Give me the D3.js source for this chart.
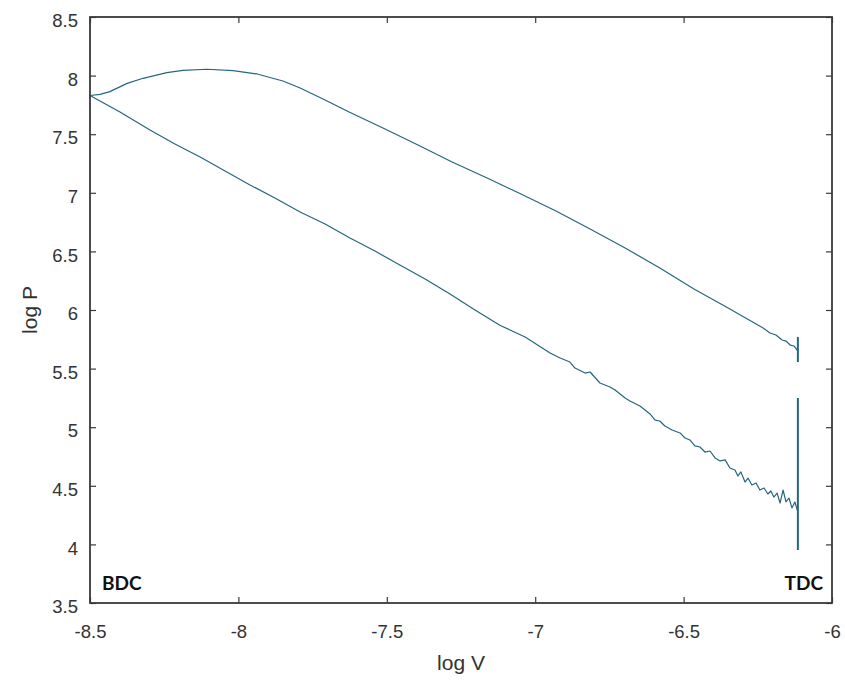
<!DOCTYPE html>
<html>
<head>
<meta charset="utf-8">
<script src="https://cdn.jsdelivr.net/npm/d3@7"></script>
<style>
  html, body { margin: 0; padding: 0; background: #ffffff; }
  svg { display: block; }
</style>
</head>
<body>
<svg id="chart" width="845" height="680"></svg>
<script>
// ---------------- DATA ----------------
// Compression stroke (lower curve), BDC -> TDC
const compressionLogV = [-8.500, -8.399, -8.298, -8.214, -8.129, -8.045, -7.961, -7.877, -7.792, -7.708,
  -7.624, -7.540, -7.456, -7.371, -7.287, -7.203, -7.119, -7.085, -7.034, -6.950,
  -6.916, -6.883, -6.866, -6.832, -6.815, -6.782, -6.748, -6.731, -6.697, -6.681,
  -6.647, -6.613, -6.596, -6.580, -6.563, -6.539, -6.512, -6.495, -6.479, -6.462,
  -6.445, -6.428, -6.411, -6.394, -6.377, -6.360, -6.344, -6.327, -6.317, -6.307,
  -6.293, -6.283, -6.270, -6.256, -6.243, -6.229, -6.216, -6.206, -6.196, -6.185,
  -6.175, -6.165, -6.155, -6.145, -6.135, -6.125, -6.115];
const compressionLogP = [7.830, 7.689, 7.536, 7.416, 7.305, 7.186, 7.067, 6.956, 6.836, 6.734,
  6.614, 6.503, 6.384, 6.264, 6.136, 6.000, 5.870, 5.830, 5.770, 5.633,
  5.590, 5.556, 5.505, 5.462, 5.471, 5.377, 5.343, 5.317, 5.249, 5.224,
  5.181, 5.113, 5.061, 5.053, 5.010, 4.976, 4.951, 4.908, 4.891, 4.840,
  4.831, 4.788, 4.797, 4.738, 4.712, 4.721, 4.652, 4.635, 4.584, 4.618,
  4.532, 4.566, 4.507, 4.524, 4.464, 4.481, 4.430, 4.456, 4.404, 4.438,
  4.353, 4.464, 4.362, 4.396, 4.311, 4.362, 4.277];

// Expansion stroke (upper curve), BDC -> TDC order
const expansionLogV = [-8.500, -8.466, -8.433, -8.375, -8.321, -8.241, -8.187, -8.106, -8.018, -7.937,
  -7.850, -7.792, -7.708, -7.627, -7.513, -7.395, -7.280, -7.162, -7.048, -6.930,
  -6.815, -6.697, -6.580, -6.465, -6.350, -6.232, -6.209, -6.189, -6.168, -6.155,
  -6.141, -6.128, -6.115];
const expansionLogP = [7.830, 7.840, 7.863, 7.934, 7.977, 8.025, 8.045, 8.054, 8.042, 8.014,
  7.954, 7.894, 7.792, 7.689, 7.553, 7.408, 7.263, 7.126, 6.990, 6.845,
  6.691, 6.529, 6.358, 6.179, 6.017, 5.846, 5.804, 5.787, 5.744, 5.735,
  5.701, 5.693, 5.650];

// Pressure jumps recorded at TDC
const tdcLogV = -6.115;
const tdcLowLogP = [3.952, 5.249];
const tdcHighLogP = [5.556, 5.770];

// Axis ticks
const xTicks = [-8.5, -8, -7.5, -7, -6.5, -6];
const xTickLabels = ["-8.5", "-8", "-7.5", "-7", "-6.5", "-6"];
const yTicks = [3.5, 4, 4.5, 5, 5.5, 6, 6.5, 7, 7.5, 8, 8.5];
const yTickLabels = ["3.5", "4", "4.5", "5", "5.5", "6", "6.5", "7", "7.5", "8", "8.5"];

// ---------------- CHART ----------------
(function () {
const svg = d3.select("#chart");
const mL = 90, mR = 832, mT = 17, mB = 603;
const x = d3.scaleLinear().domain([-8.5, -6]).range([mL, mR]);
const y = d3.scaleLinear().domain([3.5, 8.5]).range([mB, mT]);

const lineColor = "#25667f";
const axisColor = "#3a3a3a";
const textColor = "#333333";
const font = "'Liberation Sans', Arial, Helvetica, sans-serif";

const line = d3.line().x(d => x(d[0])).y(d => y(d[1]));

const compression = compressionLogV.map((v, i) => [v, compressionLogP[i]]);
const expansion = expansionLogV.map((v, i) => [v, expansionLogP[i]]);

svg.append("path").datum(compression)
  .attr("d", line).attr("fill", "none")
  .attr("stroke", lineColor).attr("stroke-width", 1.2).attr("stroke-linejoin", "round");
svg.append("path").datum(expansion)
  .attr("d", line).attr("fill", "none")
  .attr("stroke", lineColor).attr("stroke-width", 1.2).attr("stroke-linejoin", "round");

[tdcLowLogP, tdcHighLogP].forEach(seg => {
  svg.append("path").datum(seg.map(p => [tdcLogV, p]))
    .attr("d", line).attr("fill", "none")
    .attr("stroke", lineColor).attr("stroke-width", 2);
});

// Axes (box with inward ticks on all sides)
const tickLen = 6;
const gx = svg.append("g").attr("transform", `translate(0,${mB})`)
  .call(d3.axisBottom(x).tickValues(xTicks).tickSizeInner(-tickLen).tickSizeOuter(0)
    .tickFormat((d, i) => xTickLabels[i]).tickPadding(22));
const gxTop = svg.append("g").attr("transform", `translate(0,${mT})`)
  .call(d3.axisTop(x).tickValues(xTicks).tickSizeInner(-tickLen).tickSizeOuter(0).tickFormat(""));
const gy = svg.append("g").attr("transform", `translate(${mL},0)`)
  .call(d3.axisLeft(y).tickValues(yTicks).tickSizeInner(-tickLen).tickSizeOuter(0)
    .tickFormat((d, i) => yTickLabels[i]).tickPadding(12));
const gyRight = svg.append("g").attr("transform", `translate(${mR},0)`)
  .call(d3.axisRight(y).tickValues(yTicks).tickSizeInner(-tickLen).tickSizeOuter(0).tickFormat(""));

[gx, gxTop, gy, gyRight].forEach(g => {
  g.select(".domain").remove();
  g.selectAll(".tick line").attr("stroke", axisColor).attr("stroke-width", 1.2);
  g.selectAll(".tick text").attr("fill", textColor)
    .style("font-family", font).style("font-size", "18.5px");
});
gy.selectAll(".tick text").attr("dy", "0.52em");
gx.selectAll(".tick text").attr("dy", "0.71em");

svg.append("rect")
  .attr("x", mL).attr("y", mT)
  .attr("width", mR - mL).attr("height", mB - mT)
  .attr("fill", "none").attr("stroke", axisColor).attr("stroke-width", 1.8);

// Axis labels
svg.append("text")
  .attr("x", (mL + mR) / 2).attr("y", 670)
  .attr("text-anchor", "middle").attr("fill", textColor)
  .style("font-family", font).style("font-size", "21px")
  .text("log V");
svg.append("text")
  .attr("transform", `translate(37,${(mT + mB) / 2}) rotate(-90)`)
  .attr("text-anchor", "middle").attr("fill", textColor)
  .style("font-family", font).style("font-size", "21px")
  .text("log P");

// Annotations
const annFont = "Lato, 'Open Sans', 'Liberation Sans', sans-serif";
svg.append("text")
  .attr("x", 102).attr("y", 590)
  .attr("fill", "#111").style("font-family", annFont)
  .style("font-size", "19px").style("font-weight", "bold")
  .text("BDC");
svg.append("text")
  .attr("x", 823).attr("y", 590).attr("text-anchor", "end")
  .attr("fill", "#111").style("font-family", annFont)
  .style("font-size", "19px").style("font-weight", "bold")
  .text("TDC");
})();
</script>
</body>
</html>
